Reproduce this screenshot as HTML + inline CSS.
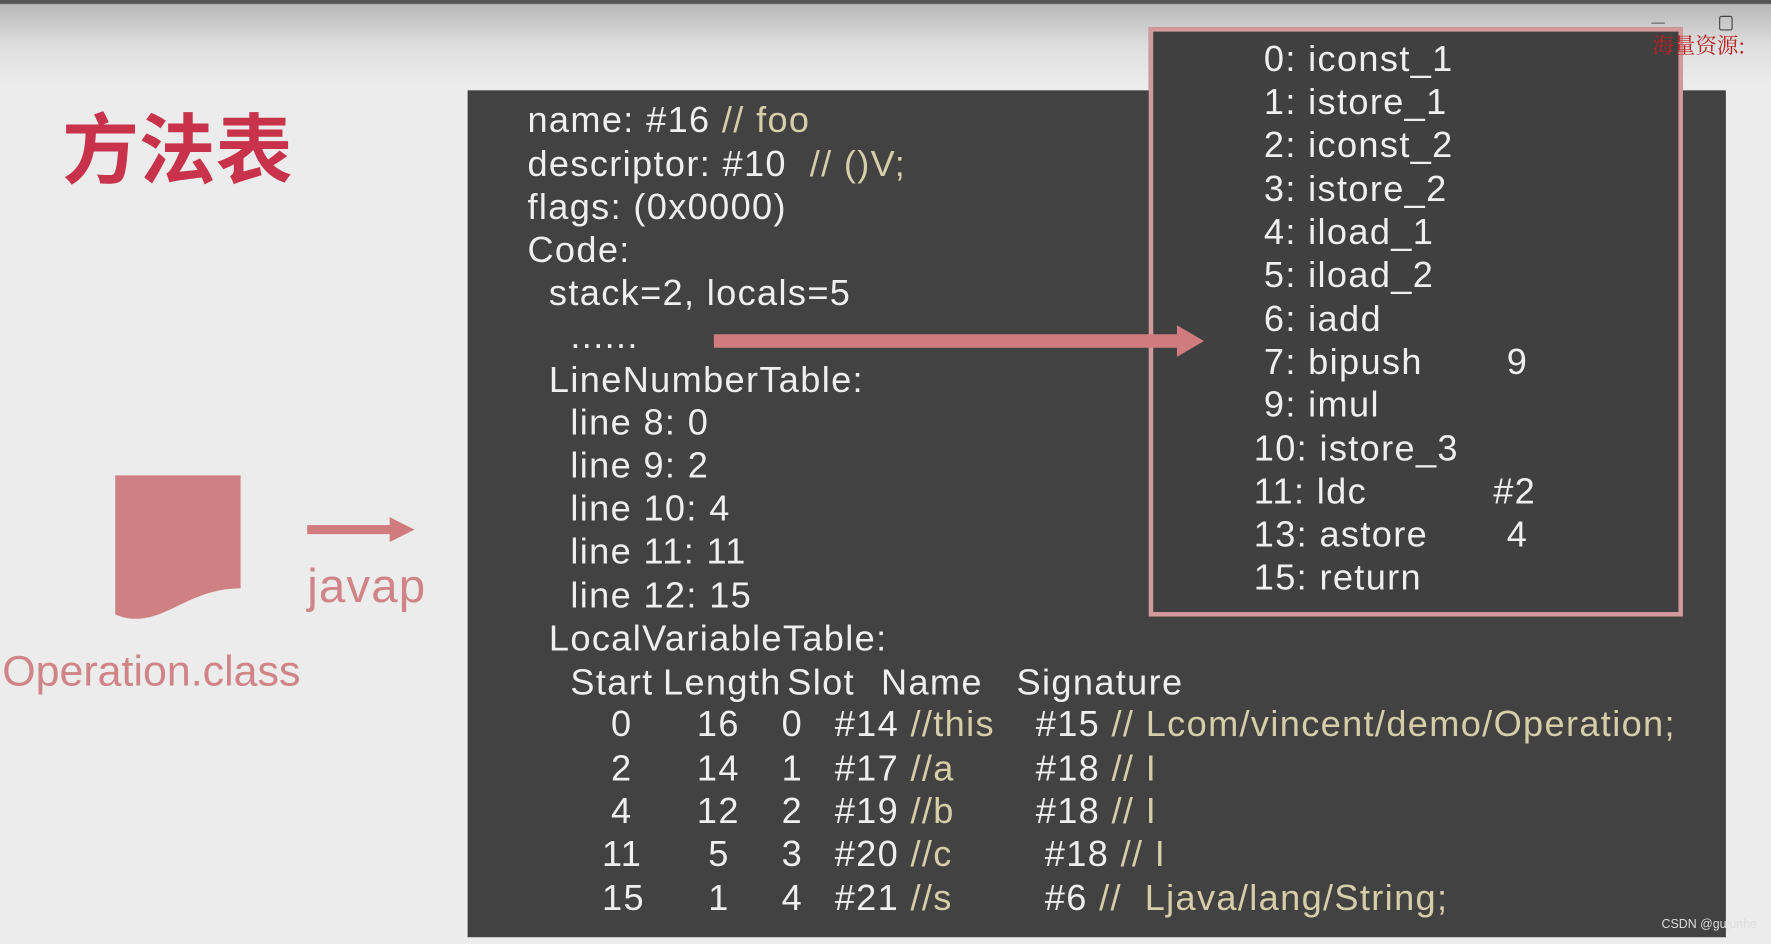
<!DOCTYPE html>
<html><head><meta charset="utf-8"><style>
html,body{margin:0;padding:0;width:1771px;height:944px;overflow:hidden;background:#ececec}
#w{position:absolute;left:0;top:0;width:1568px;height:836px;transform:scale(1.1295,1.1292);transform-origin:0 0;
background:linear-gradient(#555 0,#555 3px,#b8b8b8 4px,#dedede 40px,#ececec 75px,#ececec 100%);font-family:"Liberation Sans",sans-serif}
.a{position:absolute;white-space:pre;line-height:1}
.t{color:#efefef;font-size:32px;letter-spacing:1.2px}
.c{color:#d6cea8}
</style></head><body><div id="w">
<div class="a" style="left:55px;top:100px;font-size:68px;font-weight:bold;color:#c8324a;font-family:'Liberation Sans','Noto Sans CJK SC',sans-serif">方法表</div>

<div class="a" style="left:414px;top:80px;width:1114px;height:750px;background:#424242"></div>
<div class="a" style="left:1017px;top:24px;width:465px;height:514px;background:#404040;border:4px solid #d4999c"></div>
<div class="a" style="left:1463px;top:30px;font-size:19px;color:#b22;font-family:'Noto Serif CJK SC',serif;z-index:5">海量资源:</div>
<div class="a" style="left:1462px;top:20px;width:12px;height:1px;background:#666;z-index:5"></div>
<div class="a" style="left:1522px;top:14px;width:10px;height:11px;border:1.5px solid #444;border-radius:2px;z-index:5"></div>

<svg class="a" style="left:0;top:0" width="1568" height="836">
<rect x="632" y="296" width="414" height="12" fill="#d07b7e"/>
<polygon points="1042,288 1066,302 1042,316" fill="#d07b7e"/>
<rect x="272" y="465" width="76" height="8" fill="#d07b7e"/>
<polygon points="345,458 367,469 345,480" fill="#d07b7e"/>
<path d="M102,421 H213 V521 C170,521 150,548 120,548 C112,548 106,546 102,544 Z" fill="#cf8082"/>
</svg>
<div class="a" style="left:272px;top:498px;font-size:42px;color:#d08487;letter-spacing:1px">javap</div>
<div class="a" style="left:2px;top:576px;font-size:38px;color:#d08487">Operation.class</div>

<div class="t">
<div class="a" style="left:467px;top:90px">name: #16 <span class="c">// foo</span></div>
<div class="a" style="left:467px;top:129px">descriptor: #10  <span class="c">// ()V;</span></div>
<div class="a" style="left:467px;top:167px">flags: (0x0000)</div>
<div class="a" style="left:467px;top:205px">Code:</div>
<div class="a" style="left:486px;top:243px">stack=2, locals=5</div>
<div class="a" style="left:505px;top:281px">......</div>
<div class="a" style="left:486px;top:320px">LineNumberTable:</div>
<div class="a" style="left:505px;top:358px">line 8: 0</div>
<div class="a" style="left:505px;top:396px">line 9: 2</div>
<div class="a" style="left:505px;top:434px">line 10: 4</div>
<div class="a" style="left:505px;top:472px">line 11: 11</div>
<div class="a" style="left:505px;top:511px">line 12: 15</div>
<div class="a" style="left:486px;top:549px">LocalVariableTable:</div>
<div class="a" style="left:505px;top:588px">Start</div><div class="a" style="left:587px;top:588px">Length</div><div class="a" style="left:697px;top:588px">Slot</div><div class="a" style="left:780px;top:588px">Name</div><div class="a" style="left:900px;top:588px">Signature</div>

<div class="a" style="left:541px;top:625px">0</div><div class="a" style="left:617px;top:625px">16</div><div class="a" style="left:692px;top:625px">0</div><div class="a" style="left:739px;top:625px">#14 <span class="c">//this</span></div><div class="a" style="left:917px;top:625px">#15 <span class="c">// Lcom/vincent/demo/Operation;</span></div>
<div class="a" style="left:541px;top:664px">2</div><div class="a" style="left:617px;top:664px">14</div><div class="a" style="left:692px;top:664px">1</div><div class="a" style="left:739px;top:664px">#17 <span class="c">//a</span></div><div class="a" style="left:917px;top:664px">#18 <span class="c">// I</span></div>
<div class="a" style="left:541px;top:702px">4</div><div class="a" style="left:617px;top:702px">12</div><div class="a" style="left:692px;top:702px">2</div><div class="a" style="left:739px;top:702px">#19 <span class="c">//b</span></div><div class="a" style="left:917px;top:702px">#18 <span class="c">// I</span></div>
<div class="a" style="left:533px;top:740px">11</div><div class="a" style="left:627px;top:740px">5</div><div class="a" style="left:692px;top:740px">3</div><div class="a" style="left:739px;top:740px">#20 <span class="c">//c</span></div><div class="a" style="left:925px;top:740px">#18 <span class="c">// I</span></div>
<div class="a" style="left:533px;top:779px">15</div><div class="a" style="left:627px;top:779px">1</div><div class="a" style="left:692px;top:779px">4</div><div class="a" style="left:739px;top:779px">#21 <span class="c">//s</span></div><div class="a" style="left:925px;top:779px">#6 <span class="c">//  Ljava/lang/String;</span></div>

<div class="a" style="left:1119px;top:36px">0: iconst_1</div>
<div class="a" style="left:1119px;top:74px">1: istore_1</div>
<div class="a" style="left:1119px;top:112px">2: iconst_2</div>
<div class="a" style="left:1119px;top:151px">3: istore_2</div>
<div class="a" style="left:1119px;top:189px">4: iload_1</div>
<div class="a" style="left:1119px;top:227px">5: iload_2</div>
<div class="a" style="left:1119px;top:266px">6: iadd</div>
<div class="a" style="left:1119px;top:304px">7: bipush</div><div class="a" style="left:1334px;top:304px">9</div>
<div class="a" style="left:1119px;top:342px">9: imul</div>
<div class="a" style="left:1110px;top:381px">10: istore_3</div>
<div class="a" style="left:1110px;top:419px">11: ldc</div><div class="a" style="left:1322px;top:419px">#2</div>
<div class="a" style="left:1110px;top:457px">13: astore</div><div class="a" style="left:1334px;top:457px">4</div>
<div class="a" style="left:1110px;top:495px">15: return</div>
</div>
<div class="a" style="left:1471px;top:814px;font-size:11px;color:#ddd">CSDN @gujunhe</div>
</div></body></html>
